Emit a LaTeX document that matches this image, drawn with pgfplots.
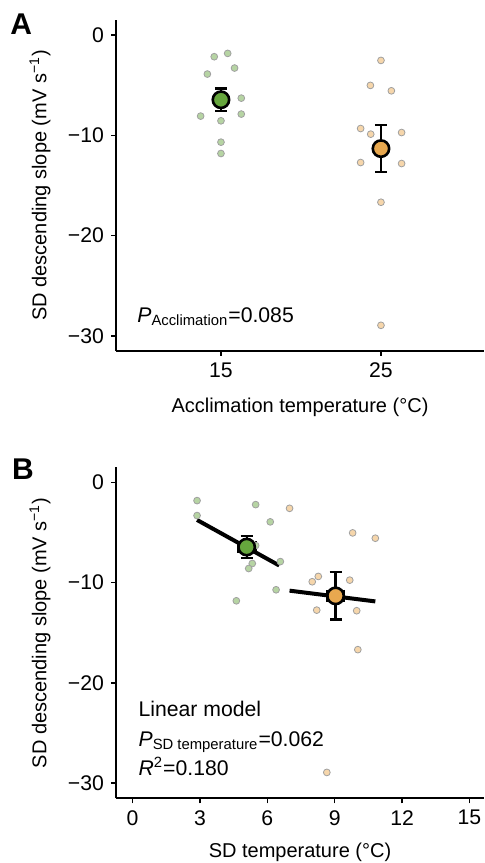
\documentclass[border=0pt]{standalone}
\usepackage{fontspec}
\setmainfont{Liberation Sans}
\usepackage{pgfplots}
\pgfplotsset{compat=1.18}
\definecolor{gmean}{HTML}{66A63D}
\definecolor{gpt}{HTML}{B6D4A3}
\definecolor{omean}{HTML}{E8A84F}
\definecolor{opt}{HTML}{F6D6AB}
\definecolor{edge}{HTML}{A0A0A0}
\newcommand\fs{\fontsize{10.6}{12.6}\selectfont}

\pgfplotsset{
  panel/.style={
    scale only axis, width=184pt, height=165.5pt,
    axis x line*=bottom, axis y line*=left,
    axis line style={line width=1.1pt},
    tick align=outside, major tick length=2.5pt,
    every tick/.style={line width=0.8pt, black},
    ymin=-31.5, ymax=1.5, ytick={-30,-20,-10,0},
    yticklabels={−30,−20,−10,0},
    tick label style={font=\fs},
    label style={font=\fs},
    every axis y label/.style={at={(axis description cs:0,0.5)},xshift=-38pt,rotate=90,anchor=center},
    every axis x label/.style={at={(axis description cs:0.5,0)},yshift=-31pt,anchor=base},
    clip=false,
  },
  pts/.style={only marks, mark=*, mark size=1.7pt,
    mark options={line width=0.4pt, draw=edge, fill=#1}},
  mean/.style={only marks, mark=*, mark size=4.1pt,
    mark options={solid, line width=1.3pt, draw=black, fill=#1},
    error bars/.cd, y dir=both, y explicit, x dir=both, x explicit,
    error mark=|,
    error bar style={solid, line width=1.15pt, black},
    error mark options={solid, mark size=3pt, line width=1.15pt, draw=black}},
}

\begin{document}
\begin{tikzpicture}
% Panel A
\begin{axis}[panel, at={(58pt,256pt)}, anchor=south west,
  xmin=8.44, xmax=31.44, xtick={15,25}, xticklabels={15,25},
  xlabel={Acclimation temperature (°C)},
  ylabel={SD descending slope (mV s\textsuperscript{−1})}]
\addplot[pts=gpt] coordinates {(15.42,-1.83)(14.58,-2.16)(15.85,-3.29)(14.15,-3.89)(16.27,-6.29)(13.73,-8.08)(16.27,-7.88)(15,-8.55)(15,-10.68)(15,-11.81)};
\addplot[pts=opt] coordinates {(25,-2.53)(24.34,-5.02)(25.65,-5.56)(23.73,-9.32)(24.36,-9.88)(26.29,-9.72)(23.73,-12.71)(26.29,-12.81)(25,-16.67)(25,-28.94)};
\addplot[mean=gmean] coordinates {(15,-6.45) +- (0,1.12)};
\addplot[mean=omean] coordinates {(25,-11.32) +- (0,2.36)};
\node[anchor=base west, inner sep=0, font=\fs] at (axis cs:9.75,-28.64) {\textit{P}\textsubscript{Acclimation}=0.085};
\end{axis}
% Panel B
\begin{axis}[panel, at={(58pt,32.35pt)}, anchor=south west,
  xmin=-0.74, xmax=15.65, xtick={0,3,...,15}, xticklabels={0,3,6,9,12,15},
  xlabel={SD temperature (°C)},
  every axis x label/.append style={yshift=1.5pt},
  ylabel={SD descending slope (mV s\textsuperscript{−1})}]
\addplot[line width=2pt, black] coordinates {(2.87,-3.75)(6.53,-8.29)};
\addplot[line width=2pt, black] coordinates {(6.99,-10.80)(10.81,-11.87)};
\addplot[pts=gpt] coordinates {(2.87,-1.82)(2.87,-3.31)(5.48,-2.22)(6.13,-3.94)(5.48,-6.30)(6.58,-7.90)(5.33,-8.09)(5.17,-8.59)(6.39,-10.71)(4.62,-11.81)};
\addplot[pts=opt] coordinates {(6.99,-2.59)(9.80,-5.04)(10.81,-5.57)(8.27,-9.38)(8.00,-9.91)(9.67,-9.75)(8.20,-12.74)(9.98,-12.80)(10.03,-16.68)(8.65,-28.92)};
\addplot[mean=gmean] coordinates {(5.08,-6.45) +- (0.40,1.12)};
\addplot[mean=omean] coordinates {(9.04,-11.32) +- (0.36,2.36)};
\node[anchor=base west, inner sep=0, font=\fs] at (axis cs:0.25,-23.38) {Linear model};
\node[anchor=base west, inner sep=0, font=\fs] at (axis cs:0.25,-26.3) {\textit{P}\textsubscript{SD temperature}=0.062};
\node[anchor=base west, inner sep=0, font=\fs] at (axis cs:0.25,-29.18) {\textit{R}\textsuperscript{2}=0.180};
\end{axis}
\node[anchor=base west, inner sep=0, font=\bfseries\fontsize{15}{18}\selectfont] at (5pt,414pt) {A};
\node[anchor=base west, inner sep=0, font=\bfseries\fontsize{15}{18}\selectfont] at (5.8pt,191.8pt) {B};
\pgfresetboundingbox
\path (0,0) rectangle (242pt,431.5pt);
\end{tikzpicture}
\end{document}
